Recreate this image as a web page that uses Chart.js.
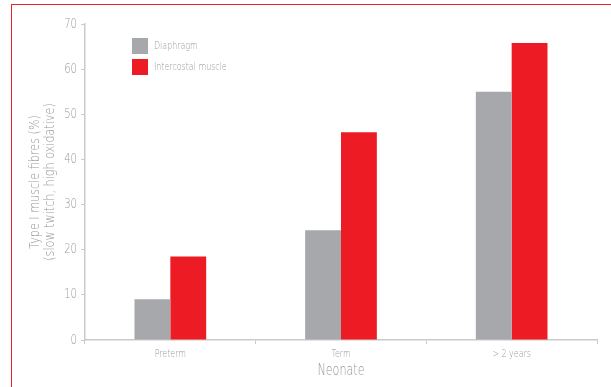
<!DOCTYPE html>
<html>
<head>
<meta charset="utf-8">
<script src="https://cdn.jsdelivr.net/npm/chart.js@4"></script>
<style>
  html, body { margin: 0; padding: 0; background: #fff; }
  #wrap { position: relative; width: 611px; height: 387px; overflow: hidden; }
  #frame { position: absolute; left: 11px; top: 4px; width: 800px; height: 600px;
           border-top: 1px solid #ec2029; border-left: 1px solid #ec2029; }
  canvas { position: absolute; left: 0; top: 0; }
</style>
</head>
<body>
<div id="wrap">
  <div id="frame"></div>
  <canvas id="chart" width="611" height="387"></canvas>
</div>
<script>
// data
const categories = ['Preterm', 'Term', '> 2 years'];
const diaphragm = [9, 24.3, 55];
const intercostal = [18.5, 46, 65.8];
const seriesNames = ['Diaphragm', 'Intercostal muscle'];
const yTicks = [0, 10, 20, 30, 40, 50, 60, 70];

const grey = '#a7a8ab';
const red = '#ed1c24';
const axisCol = '#c9cacc';
const textCol = '#97989a';
const fam = '"DejaVu Sans", sans-serif';

let canvas = document.getElementById('chart');
let myChart = canvas.getContext('2d');

// the original uses a condensed face, squeeze text horizontally
const rawFill = myChart.fillText.bind(myChart);
myChart.fillText = function (t, x, y, w) {
  const k = this.font.startsWith('300') ? 0.8 : 0.72;
  this.save();
  this.translate(x, y);
  this.scale(k, 1);
  if (w === undefined) rawFill(t, 0, 0);
  else rawFill(t, 0, 0, w / k);
  this.restore();
};

// legend drawn inside the plot, top left
const insideLegend = {
  id: 'insideLegend',
  afterDatasetsDraw(chart) {
    const ctx = chart.ctx;
    ctx.save();
    ctx.font = '200 11px ' + fam;
    ctx.textBaseline = 'middle';
    chart.data.datasets.forEach((ds, i) => {
      const y = 38 + i * 21;
      ctx.fillStyle = ds.backgroundColor;
      ctx.fillRect(132, y, 16, 16);
      ctx.fillStyle = textCol;
      ctx.fillText(ds.label, 154, y + 8);
    });
    ctx.restore();
  }
};

let config = {
  type: 'bar',
  data: {
    labels: categories,
    datasets: [
      { label: seriesNames[0], data: diaphragm, backgroundColor: grey },
      { label: seriesNames[1], data: intercostal, backgroundColor: red }
    ]
  },
  options: {
    responsive: false,
    animation: false,
    layout: { padding: { left: 28, right: 14, top: 24, bottom: 0 } },
    plugins: {
      legend: { display: false },
      tooltip: { enabled: false }
    },
    datasets: {
      bar: { categoryPercentage: 0.42, barPercentage: 1 }
    },
    scales: {
      x: {
        grid: { drawOnChartArea: false, color: axisCol, tickLength: 4, tickColor: axisCol },
        border: { color: axisCol, width: 1.5 },
        ticks: { color: textCol, font: { family: fam, size: 11, weight: 200 }, padding: 4,
                 maxRotation: 0, minRotation: 0, autoSkip: false },
        title: { display: true, text: 'Neonate', color: textCol,
                 font: { family: fam, size: 15.5, weight: 200 }, padding: { top: 0, bottom: 7 } },
        afterFit: (s) => { s.height = 47; }
      },
      y: {
        min: 0,
        max: 70,
        afterBuildTicks: (s) => { s.ticks = yTicks.map(v => ({ value: v })); },
        grid: { drawOnChartArea: false, color: axisCol, tickLength: 4, tickColor: axisCol },
        border: { color: axisCol, width: 1.5 },
        ticks: { color: textCol, font: { family: fam, size: 14, weight: 200 }, padding: 4 },
        title: {
          display: true,
          text: ['Type I muscle fibres (%)', '(slow twitch, high oxidative)'],
          color: textCol,
          font: { family: fam, size: 14, weight: 300, lineHeight: 1.05 },
          padding: { top: 0, bottom: 0 }
        },
        afterFit: (s) => { s.width = 57; }
      }
    }
  },
  plugins: [insideLegend]
};
let barChart = new Chart(myChart, config);
</script>
</body>
</html>
